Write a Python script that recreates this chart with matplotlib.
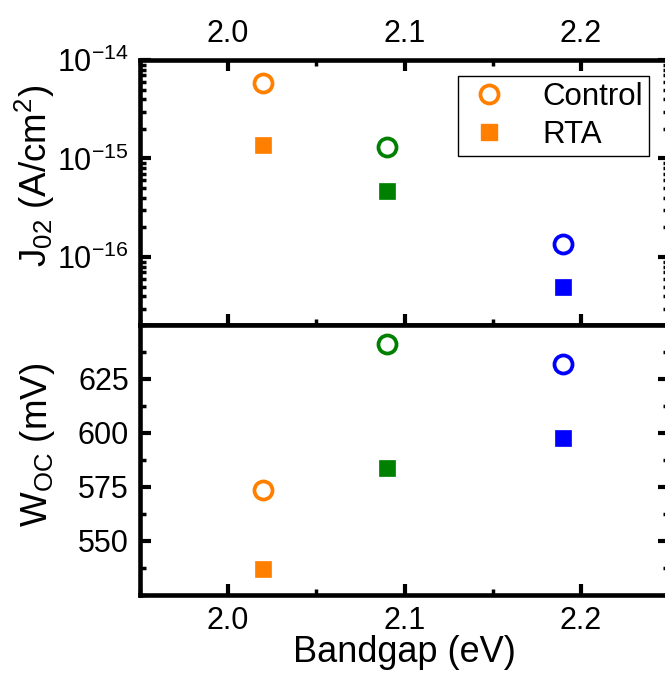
import numpy as np
import matplotlib
matplotlib.use("Agg")
import matplotlib.pyplot as plt
from matplotlib.ticker import LogLocator, MultipleLocator, NullFormatter

plt.rcParams['font.family'] = ['Liberation Sans', 'DejaVu Sans']
plt.rcParams['mathtext.fontset'] = 'custom'
plt.rcParams['mathtext.rm'] = 'Liberation Sans'
plt.rcParams['mathtext.it'] = 'Liberation Sans:italic'
plt.rcParams['axes.unicode_minus'] = False

# data
bandgap = [2.02, 2.09, 2.19]
colors = ['#ff8000', '#008000', '#0000ff']
j02_control = [5.9e-15, 1.31e-15, 1.35e-16]
j02_rta = [1.37e-15, 4.7e-16, 5.0e-17]
woc_control = [573.6, 641.2, 632.0]
woc_rta = [537.2, 583.8, 597.6]
woc_ticks = [550, 575, 600, 625]

fig = plt.figure(figsize=(6.65, 6.77), dpi=100)
left, right = 140 / 665, 669 / 665
ax1 = fig.add_axes([left, 1 - 325 / 677, right - left, 265 / 677])
ax2 = fig.add_axes([left, 1 - 595 / 677, right - left, 270 / 677], sharex=ax1)

ms = 13
for x, c, jc, jr in zip(bandgap, colors, j02_control, j02_rta):
    ax1.plot(x, jc, 'o', ms=ms, mfc='none', mec=c, mew=2.7)
    ax1.plot(x, jr, 's', ms=ms - 1, mfc=c, mec=c, mew=0.5)
for x, c, wc, wr in zip(bandgap, colors, woc_control, woc_rta):
    ax2.plot(x, wc, 'o', ms=ms, mfc='none', mec=c, mew=2.7)
    ax2.plot(x, wr, 's', ms=ms - 1, mfc=c, mec=c, mew=0.5)

# legend handles
h1, = ax1.plot([], [], 'o', ms=ms, mfc='none', mec=colors[0], mew=2.7, label='Control')
h2, = ax1.plot([], [], 's', ms=ms - 1, mfc=colors[0], mec=colors[0], label='RTA')
leg = ax1.legend(handles=[h1, h2], loc='upper right', bbox_to_anchor=(0.963, 0.94),
                 fontsize=22.5, frameon=True, fancybox=False, framealpha=1,
                 edgecolor='black', borderpad=0.2, handletextpad=0.9,
                 labelspacing=0.25, handlelength=1.6, borderaxespad=0)
leg.get_frame().set_linewidth(1.0)

ax1.set_yscale('log')
ax1.set_ylim(2.04e-17, 1e-14)
ax1.yaxis.set_major_locator(LogLocator(base=10, numticks=10))
ax1.yaxis.set_minor_locator(LogLocator(base=10, subs=np.arange(2, 10), numticks=20))
ax1.yaxis.set_minor_formatter(NullFormatter())

ax2.set_xlim(1.95, 2.25)
ax2.set_ylim(525, 650)
ax2.xaxis.set_major_locator(MultipleLocator(0.1))
ax2.xaxis.set_minor_locator(MultipleLocator(0.05))
ax2.set_yticks(woc_ticks)
ax2.yaxis.set_minor_locator(MultipleLocator(12.5))
ax2.xaxis.set_major_formatter(plt.FormatStrFormatter('%.1f'))

for ax in (ax1, ax2):
    for sp in ax.spines.values():
        sp.set_linewidth(3.3)
    ax.tick_params(which='major', direction='in', length=8, width=3, labelsize=22, pad=8)
    ax.tick_params(which='minor', direction='in', length=4.5, width=2.5)

ax1.tick_params(which='both', top=True, bottom=True, right=True, labeltop=True, labelbottom=False)
ax2.tick_params(which='both', top=False, bottom=True, right=True)

ax1.set_ylabel(r'J$_{02}$ (A/cm$^2$)', fontsize=26.5)
ax2.set_ylabel(r'W$_{\mathrm{OC}}$ (mV)', fontsize=26.5)
ax1.yaxis.set_label_coords(-0.157, 0.562)
ax2.yaxis.set_label_coords(-0.157, 0.556)
ax2.set_xlabel('Bandgap (eV)', fontsize=26, labelpad=-1)

fig.savefig('out.png', dpi=100)
